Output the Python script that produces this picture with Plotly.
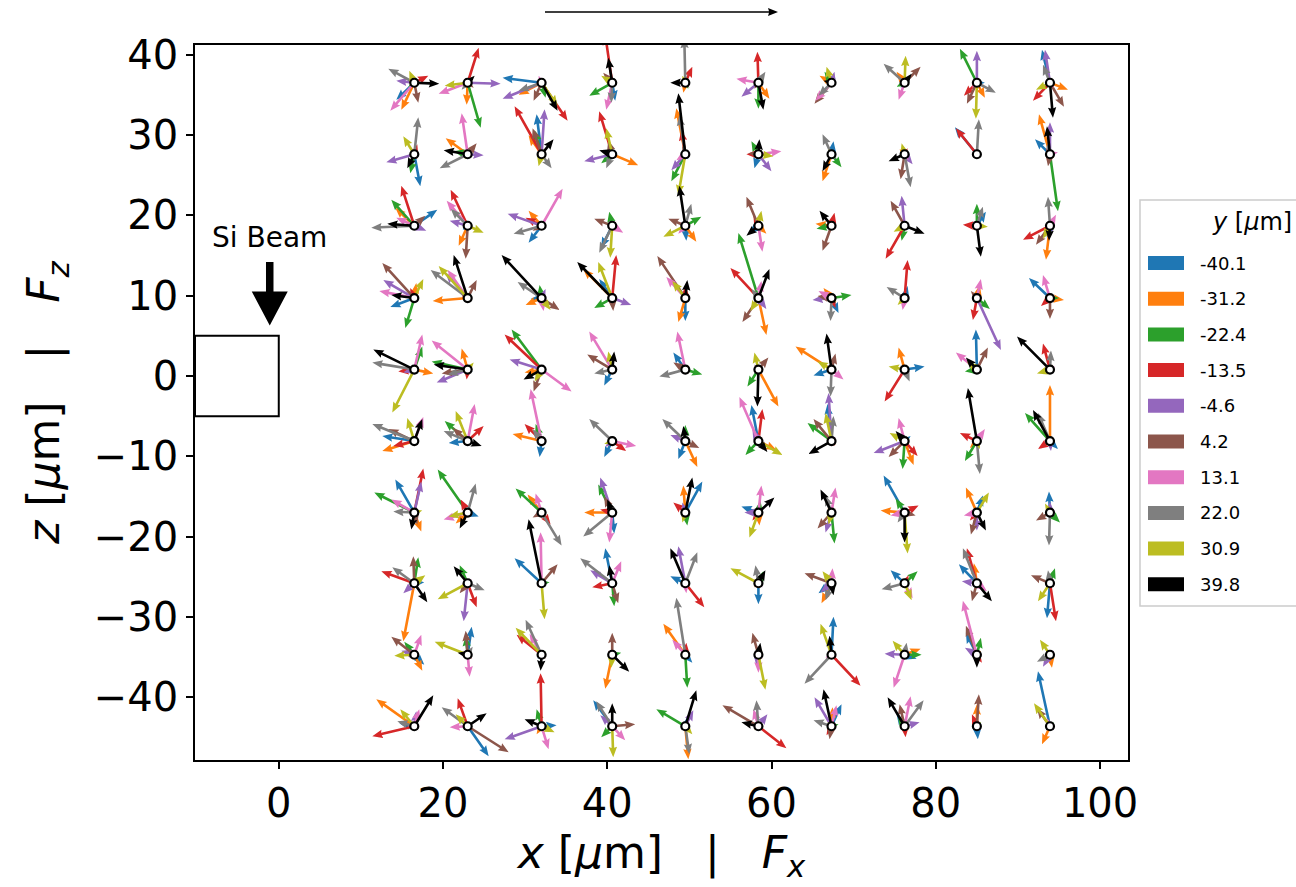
import math
import plotly.graph_objects as go

# ---------------------------------------------------------------- layout frame
FIG_W, FIG_H = 1296, 887
MARGIN = dict(l=195, r=168, t=45, b=127)
X_RANGE = [-10.2, 103.4]
Z_RANGE = [-47.8, 41.2]

# ---------------------------------------------------------------- data
# grid of probe positions (x, z) in micrometres
COL_X = [16.5, 23.0, 32.0, 40.6, 49.5, 58.4, 67.3, 76.2, 85.0, 93.9]
ROW_Z = [36.5, 27.6, 18.7, 9.7, 0.8, -8.1, -17.0, -25.8, -34.7, -43.6]

# y slices (micrometres) and their colours
Y_SLICES = [-40.1, -31.2, -22.4, -13.5, -4.6, 4.2, 13.1, 22.0, 30.9, 39.8]
SLICE_COLORS = ["#1f77b4", "#ff7f0e", "#2ca02c", "#d62728", "#9467bd",
                "#8c564b", "#e377c2", "#7f7f7f", "#bcbd22", "#000000"]

# force components (Fx, Fz), arbitrary units; one list per row of the grid,
# each point holds one vector per y slice (same order as Y_SLICES)
row_1 = [
    [(-18, -17), (-13, -27), (-6, -4), (14, 7), (-18, 2), (4, -20), (-24, -28), (-26, 14), (-5, 12), (25, -1)],
    [(4, 4), (-1, -22), (13, -45), (11, 35), (33, -1), (6, -5), (-29, -11), (-6, -7), (-23, -3), (7, 7)],
    [(-39, 5), (-23, -12), (4, -15), (26, -38), (-39, -16), (-8, -18), (-3, 7), (-23, -8), (16, -23), (16, -28)],
    [(3, -18), (-3, -4), (-23, -13), (-7, 48), (-2, -7), (-9, 10), (-6, -27), (-1, -20), (-11, 7), (-4, 25)],
    [(-2, -8), (-2, -10), (3, -6), (7, 16), (-3, 5), (4, -5), (-4, -4), (-1, 45), (-3, 7), (-15, 0)],
    [(2, -6), (11, -16), (0, -26), (-1, 31), (-17, -14), (-4, -6), (-22, 4), (7, 11), (4, 4), (5, -27)],
    [(4, 5), (-12, 7), (-7, 11), (2, 6), (3, 11), (-17, -21), (-16, -18), (-13, -13), (-5, 16), (-8, 2)],
    [(-4, -5), (-8, 11), (-8, -4), (5, 4), (-4, 4), (16, 16), (-6, -17), (-21, 19), (1, 27), (7, 9)],
    [(8, 0), (8, -15), (-17, 34), (-13, -13), (0, 32), (-10, -21), (-5, -5), (19, -10), (-1, -36), (3, -5)],
    [(-8, 33), (18, -7), (-4, -6), (-17, -18), (-5, 33), (14, -24), (4, -5), (-7, 18), (-14, -7), (3, -35)],
]
row_2 = [
    [(6, -32), (-3, -4), (-4, -19), (3, 10), (-28, -8), (3, -5), (2, 4), (4, 37), (-11, 18), (-7, -14)],
    [(-8, 2), (-22, 16), (-14, 3), (3, 5), (16, -1), (9, 11), (-6, 41), (-28, -14), (-3, -5), (-24, 4)],
    [(-5, 40), (-13, 19), (-7, 24), (-27, 48), (3, 45), (-9, 26), (-2, 4), (10, -14), (-3, -12), (12, 15)],
    [(5, 2), (26, -11), (-11, -9), (-13, 43), (-28, -7), (-4, 14), (4, -4), (-6, -14), (-6, 26), (-13, 4)],
    [(3, -5), (-9, 46), (-14, -27), (-4, 24), (-14, -16), (-3, 8), (-9, -6), (-6, 39), (-7, -41), (-7, 61)],
    [(-4, -14), (4, -5), (-7, 13), (-12, 0), (13, -17), (-10, 1), (23, 3), (4, 5), (15, -2), (1, 15)],
    [(2, 13), (-9, -27), (10, -13), (-4, 2), (4, -5), (-3, -6), (5, -3), (-9, 20), (-3, 5), (-9, -17)],
    [(4, -4), (-5, 5), (-5, -3), (3, 6), (8, -10), (-4, -25), (4, -6), (6, -33), (-3, 11), (-16, -7)],
    [(-22, 27), (-3, -4), (3, 4), (-21, 26), (4, -3), (-4, 3), (-3, 5), (2, 35), (2, -4), (3, 3)],
    [(-15, 15), (-11, 40), (8, -57), (-4, 6), (0, 32), (-2, -12), (8, 2), (-3, 10), (4, -4), (-3, 28)],
]
row_3 = [
    [(23, 16), (-19, 18), (-23, 26), (-13, 40), (12, -5), (11, 10), (-18, 8), (-43, -2), (-3, 5), (-27, 2)],
    [(-5, -4), (-9, -20), (-6, 8), (-17, 36), (-18, 5), (-2, -33), (-21, 25), (-17, 17), (16, -7), (3, 3)],
    [(-13, -17), (-13, 15), (-5, 3), (-16, 8), (-34, 12), (-9, -5), (21, 37), (-28, -8), (-4, -3), (3, -3)],
    [(-11, -22), (3, -4), (-3, 14), (4, 4), (-3, 5), (-18, 7), (11, -7), (-13, -27), (-2, -32), (2, 3)],
    [(1, -15), (11, -16), (16, 9), (4, 4), (-4, 4), (-17, 7), (-7, -8), (6, 22), (-22, -11), (-6, 40)],
    [(-10, -8), (8, -8), (-4, 5), (-5, 10), (3, -5), (-12, 29), (4, -26), (2, -6), (3, 15), (-12, -10)],
    [(4, 5), (-16, 2), (-15, -3), (3, 13), (4, -3), (-9, -25), (3, -4), (-3, -4), (-4, 5), (-12, 15)],
    [(4, -4), (-4, -4), (-3, -15), (-19, -33), (-3, 30), (-14, 25), (3, -4), (4, 4), (-11, -6), (20, -8)],
    [(9, 14), (-4, -4), (0, 22), (-14, 1), (4, -3), (-3, -4), (5, -3), (6, 19), (11, -1), (4, -31)],
    [(-3, -12), (-4, -34), (4, -4), (-27, -14), (3, -6), (-14, -19), (6, 11), (-2, 29), (-7, -13), (-1, -15)],
]
row_4 = [
    [(-24, -9), (2, 15), (-9, -30), (-4, 10), (-31, 18), (-32, 35), (-35, 7), (-5, 3), (9, 19), (-23, 3)],
    [(-4, -3), (-35, -3), (-5, 3), (-8, 8), (-22, 25), (9, 18), (-20, 28), (-37, 28), (-29, 32), (-14, 43)],
    [(-11, -1), (-16, -7), (-2, 13), (-4, 5), (4, 9), (18, -12), (2, -13), (-24, 16), (9, -12), (-40, 43)],
    [(-13, 19), (-29, 29), (-18, -10), (4, 43), (19, -7), (1, -13), (-4, 5), (-5, -4), (-14, 36), (-35, 36)],
    [(0, -23), (-7, -24), (3, 4), (0, 12), (4, -3), (-28, 42), (-19, 21), (-4, 4), (-13, 17), (2, 18)],
    [(3, -4), (8, -37), (-20, 65), (-28, 30), (8, -11), (-16, -24), (3, 17), (-7, 9), (-8, -13), (11, 29)],
    [(7, -15), (-8, 10), (20, 3), (4, -10), (-19, -2), (-14, 2), (-13, 7), (-1, -23), (5, -4), (4, -5)],
    [(3, 12), (-3, 4), (4, -3), (3, 38), (4, 4), (-4, 4), (-2, -12), (-18, 11), (-7, -7), (-3, 3)],
    [(3, 3), (3, 13), (13, -11), (-4, -22), (24, -52), (-6, 7), (4, 19), (-4, -4), (-4, 3), (-3, -3)],
    [(-21, 20), (14, -2), (9, 0), (-9, -8), (4, -4), (0, -21), (-7, 23), (-4, 4), (-4, -3), (3, 4)],
]
row_5 = [
    [(4, -4), (19, -4), (8, 23), (-16, -2), (-11, -3), (-4, -4), (8, 35), (-42, 7), (-22, -43), (-41, 20)],
    [(5, -2), (-6, 21), (-36, 8), (-1, -10), (-31, -13), (-26, -4), (-36, 29), (-20, -5), (6, 7), (-34, 5)],
    [(-4, -4), (-17, -3), (-30, 40), (-37, 35), (-32, 10), (-8, -22), (30, -22), (-4, 4), (-7, -12), (-18, -10)],
    [(-8, -16), (-3, 4), (-4, -4), (-3, 5), (-4, 3), (-25, 15), (-23, 38), (-18, -4), (-4, 18), (2, 18)],
    [(-12, 17), (3, 4), (17, -5), (-3, 5), (-4, 3), (-12, 7), (-8, 38), (-26, -7), (3, -4), (-3, 5)],
    [(-4, -5), (20, -37), (-11, -17), (-4, 4), (4, 4), (10, 12), (4, -4), (-4, 5), (-4, 17), (-1, -37)],
    [(-18, -6), (-36, 23), (4, 3), (4, -3), (3, -4), (4, 16), (12, -10), (-1, -27), (-14, 8), (-5, 36)],
    [(20, 3), (-6, 22), (4, 3), (-20, -32), (3, -4), (-4, 4), (-3, -5), (5, -12), (-16, 3), (-4, 3)],
    [(-1, 40), (3, 4), (-12, -2), (-4, -3), (4, -3), (11, 22), (-21, 17), (3, 4), (-10, 8), (-11, 12)],
    [(4, -3), (3, 4), (-3, 4), (-7, 26), (-4, -3), (3, 5), (5, 3), (1, 19), (-13, -4), (-33, 33)],
]
row_6 = [
    [(-32, 5), (-32, -10), (-4, 4), (-21, -5), (4, -4), (-26, 12), (9, 24), (-42, 17), (-7, 23), (8, 22)],
    [(-19, -2), (-4, -4), (-23, 20), (16, 15), (4, -3), (-15, 13), (7, 37), (-24, 10), (-12, 30), (14, -5)],
    [(-2, -16), (-29, 7), (-6, 17), (-17, 17), (3, -4), (-4, 4), (-11, 52), (-9, 12), (4, -3), (-4, -4)],
    [(-8, -16), (-4, 3), (3, 4), (14, -10), (-7, -6), (4, -3), (24, -5), (-23, 22), (-8, -3), (3, 4)],
    [(-7, -18), (12, -26), (0, 16), (4, -4), (-15, 6), (14, -7), (-4, 4), (-23, 22), (3, 4), (-2, 15)],
    [(-7, 36), (18, -9), (-13, -14), (4, 32), (-6, 12), (4, 4), (-19, 44), (-4, 4), (24, -14), (9, -11)],
    [(-4, 37), (4, -4), (-24, 18), (3, -5), (-3, 48), (-18, 22), (4, 4), (2, 25), (-6, 28), (-23, -13)],
    [(6, 5), (9, -24), (-2, -28), (13, -15), (-31, -12), (-16, -16), (-6, 23), (-4, 4), (-15, 8), (-9, 10)],
    [(3, 4), (-7, -7), (-12, -20), (-17, 8), (4, -3), (-4, 3), (8, 12), (3, -33), (3, -8), (-9, 53)],
    [(8, -8), (0, 56), (-25, 28), (-12, -8), (1, -10), (-4, 4), (4, 3), (-12, 28), (-4, -4), (-17, 31)],
]
row_7 = [
    [(-19, 33), (7, -19), (-40, 20), (9, 44), (7, 31), (3, -12), (-23, 13), (-21, 1), (8, 2), (-3, -17)],
    [(11, -4), (-12, -11), (-30, 43), (-7, 13), (4, -3), (-4, -4), (-24, -7), (8, 29), (-19, -4), (-8, -16)],
    [(4, 4), (-14, 18), (-26, 24), (9, -12), (-4, 3), (-9, -5), (-6, 19), (20, -33), (3, -4), (-4, 4)],
    [(2, -21), (-28, 0), (-14, 28), (-12, 3), (-12, 35), (-8, 16), (-3, -30), (-29, -24), (-4, -4), (-5, 13)],
    [(17, 31), (-2, 27), (2, -13), (-12, 10), (-3, 10), (4, -3), (-4, -4), (4, 4), (-3, -10), (7, 35)],
    [(-17, 6), (1, -13), (2, 12), (-6, -8), (-14, 0), (-4, -4), (3, 27), (4, 4), (-9, -25), (16, 15)],
    [(4, -4), (-4, 4), (3, -31), (4, 4), (-6, -20), (-14, -16), (4, 25), (-6, 17), (-3, -12), (-11, 23)],
    [(-21, 37), (-24, 2), (-9, 14), (14, 7), (-4, -4), (11, -3), (-14, -3), (-7, -10), (3, -41), (0, -30)],
    [(6, 17), (-11, 25), (4, 4), (-7, -8), (0, -18), (-6, -22), (-13, -3), (-4, 4), (12, 20), (9, -18)],
    [(-1, 21), (4, -4), (10, -10), (4, 3), (0, 11), (-14, -8), (4, -3), (-1, -33), (-5, 9), (-3, -4)],
]
row_8 = [
    [(10, 1), (-11, -58), (4, 26), (-33, 12), (-11, -10), (-1, 27), (4, 5), (-22, 16), (11, 8), (13, -19)],
    [(4, -3), (-4, 4), (-8, 18), (9, -24), (-4, -38), (-8, -10), (4, 4), (17, -7), (-30, -16), (-14, 17)],
    [(-27, 25), (-4, -4), (8, 1), (4, 4), (-4, -3), (16, 19), (-1, 51), (4, -4), (3, -36), (-13, 64)],
    [(-7, 35), (-4, -4), (2, -23), (-20, -4), (-22, 13), (6, -20), (9, 22), (-32, 25), (4, -4), (-3, 18)],
    [(-15, 7), (4, -4), (4, 4), (19, -24), (-7, 37), (-4, -4), (1, -10), (12, 31), (-4, 3), (-15, 35)],
    [(0, -21), (-4, -4), (5, 12), (-4, 4), (4, -4), (-4, -4), (4, -4), (-3, 18), (-28, 15), (7, 13)],
    [(-13, -10), (-10, -20), (4, -4), (4, -3), (-11, -9), (-27, 10), (1, 15), (-6, -17), (-9, 12), (2, -12)],
    [(-14, 13), (-4, -4), (13, 12), (4, 8), (-4, 3), (-4, -4), (8, -15), (-23, -6), (7, -17), (4, -4)],
    [(-18, 19), (-3, 20), (4, -4), (-10, 35), (-15, 2), (-5, -18), (10, -8), (-14, 35), (-4, 4), (15, -18)],
    [(-3, -35), (4, -4), (5, 15), (6, -38), (4, -4), (-19, 8), (4, 4), (-2, 13), (-12, -18), (-4, -4)],
]
row_9 = [
    [(10, -10), (8, -16), (-10, 13), (-4, 4), (-13, 4), (-23, 18), (7, 20), (-4, 4), (-20, -1), (4, -4)],
    [(4, 28), (4, -4), (-2, 19), (-4, 4), (4, -4), (-2, 24), (2, -22), (5, 8), (-33, 13), (-10, 2)],
    [(-4, -4), (-4, 4), (4, 4), (-25, 20), (-4, -3), (4, -4), (-12, 21), (-16, 35), (-26, 27), (-1, -16)],
    [(4, -4), (-7, -34), (9, 2), (-4, 4), (-4, -3), (0, 22), (4, 4), (-4, 4), (-1, -13), (17, -17)],
    [(7, -8), (-22, 31), (2, -33), (1, 12), (-4, -4), (4, 4), (-13, 15), (-9, 57), (-4, -4), (4, -4)],
    [(-4, -4), (4, -4), (4, 4), (4, 4), (-2, -12), (-6, 22), (0, -18), (-4, 4), (7, -35), (2, 12)],
    [(2, 38), (4, -4), (4, 4), (29, -31), (-4, -4), (4, 4), (-6, -3), (-27, -29), (-11, 31), (-2, 19)],
    [(12, -4), (16, 6), (17, 0), (4, 4), (-20, 1), (-4, -4), (-11, -33), (2, 12), (-12, 14), (-4, 4)],
    [(-11, 22), (4, 4), (4, 17), (5, -8), (-12, 7), (-11, 29), (-14, 54), (-4, 4), (4, -4), (0, -13)],
    [(4, 4), (2, -13), (4, -4), (-4, -4), (-7, -12), (-4, 4), (4, 4), (-13, -7), (-10, 15), (-4, -4)],
]
row_10 = [
    [(-15, 3), (-38, 27), (4, 4), (-42, -10), (2, 15), (4, -4), (5, 17), (-17, 5), (-14, 17), (19, 31)],
    [(21, -30), (-4, -4), (4, 4), (-10, 28), (4, -4), (41, -26), (-18, -1), (-26, 19), (-12, 12), (19, 13)],
    [(15, 1), (-5, -8), (-5, 17), (-1, 53), (-37, -13), (4, -4), (7, -23), (-4, 4), (13, -6), (-17, 7)],
    [(-19, 26), (4, -4), (-11, -11), (-4, -4), (-12, 11), (23, 2), (13, -14), (-16, 25), (1, -31), (0, 23)],
    [(2, 9), (3, -33), (-29, 17), (4, -4), (8, 16), (-4, -4), (4, 4), (4, -28), (7, -8), (11, 36)],
    [(4, -4), (4, -4), (-4, 4), (28, -22), (9, 12), (-36, 21), (-5, 17), (-2, 26), (-4, -4), (-17, 4)],
    [(10, 22), (1, 19), (7, 2), (-5, -9), (-17, 29), (-2, -13), (5, 21), (-18, 6), (-4, 4), (-8, 37)],
    [(-8, 12), (4, -4), (-7, 11), (1, -11), (15, 4), (-5, 22), (6, 30), (19, 26), (-4, 4), (-17, 29)],
    [(1, -13), (0, 22), (4, 4), (-5, 12), (-4, 4), (2, 32), (4, -4), (-4, -4), (4, 4), (-4, 4)],
    [(-12, 55), (-8, -18), (4, 4), (-4, 4), (4, -4), (-13, 18), (-3, 8), (-4, 4), (-16, 23), (-4, -4)],
]
FORCE_ROWS = [row_1, row_2, row_3, row_4, row_5, row_6, row_7, row_8, row_9, row_10]

# magnitude of the reference arrow drawn above the axes
KEY_FORCE = 233

# ---------------------------------------------------------------- quiver geometry
PX_PER_UNIT = 1.0          # quiver scale: screen pixels per force unit
SHAFT_W = 2.6
HEAD_W = 3.2 * SHAFT_W
HEAD_L = 4.0 * SHAFT_W
HEAD_AX = 3.6 * SHAFT_W

plot_w = FIG_W - MARGIN["l"] - MARGIN["r"]
plot_h = FIG_H - MARGIN["t"] - MARGIN["b"]
KX = plot_w / (X_RANGE[1] - X_RANGE[0])   # pixels per x unit
KZ = plot_h / (Z_RANGE[1] - Z_RANGE[0])   # pixels per z unit


def arrow_px(u, v, shaft, head_w, head_l, head_ax):
    """Arrow outline as pixel offsets from its tail (y up)."""
    length = math.hypot(u, v)
    if length == 0:
        return []
    s = min(1.0, length / head_l)          # short arrows shrink as a whole
    w, hw, hl, ha = shaft * s, head_w * s, head_l * s, head_ax * s
    local = [(0, -w / 2), (length - ha, -w / 2), (length - hl, -hw / 2),
             (length, 0), (length - hl, hw / 2), (length - ha, w / 2), (0, w / 2)]
    c, sn = u / length, v / length
    return [(a * c - b * sn, a * sn + b * c) for a, b in local]


def arrow_outline(x0, z0, fx, fz):
    """Closed polygon of a tail-pivoted quiver arrow, in data coordinates."""
    pts = arrow_px(fx * PX_PER_UNIT, fz * PX_PER_UNIT, SHAFT_W, HEAD_W, HEAD_L, HEAD_AX)
    if not pts:
        return [], []
    xs = [x0 + px / KX for px, _ in pts]
    zs = [z0 + py / KZ for _, py in pts]
    return xs + [xs[0]], zs + [zs[0]]


def svg_path(points):
    return "M " + " L ".join(f"{x:.5f},{y:.5f}" for x, y in points) + " Z"


fig = go.Figure()

for k, color in enumerate(SLICE_COLORS):
    xs, zs = [], []
    for r, z0 in enumerate(ROW_Z):
        for c, x0 in enumerate(COL_X):
            fx, fz = FORCE_ROWS[r][c][k]
            ax_, az_ = arrow_outline(x0, z0, fx, fz)
            xs += ax_ + [None]
            zs += az_ + [None]
    fig.add_trace(go.Scatter(
        x=xs, y=zs, mode="lines", fill="toself", fillcolor=color,
        line=dict(width=0, color=color), hoverinfo="skip", showlegend=False,
        name=f"{Y_SLICES[k]:.1f}"))

# probe positions
gx = [x for z in ROW_Z for x in COL_X]
gz = [z for z in ROW_Z for x in COL_X]
fig.add_trace(go.Scatter(
    x=gx, y=gz, mode="markers", hoverinfo="skip", showlegend=False,
    marker=dict(symbol="circle", size=8, color="white",
                line=dict(color="black", width=2.2))))

FONT = "DejaVu Sans"


def px_to_paper(px, py):
    return (px - MARGIN["l"]) / plot_w, (FIG_H - MARGIN["b"] - py) / plot_h


# silicon beam cross-section
fig.add_shape(type="rect", xref="x", yref="y", x0=-10.2, x1=0, y0=-5, y1=5,
              line=dict(color="black", width=2), fillcolor="rgba(0,0,0,0)")

# beam direction marker: thick arrow pointing down onto the beam
BEAM_X, BEAM_TAIL_Z, BEAM_TIP_Z = -1.1, 14.2, 6.3
beam_len = (BEAM_TAIL_Z - BEAM_TIP_Z) * KZ
beam_pts = arrow_px(0, -beam_len, 7.5, 36, 34, 34)
fig.add_shape(type="path", xref="x", yref="y",
              path=svg_path([(BEAM_X + px / KX, BEAM_TAIL_Z + py / KZ) for px, py in beam_pts]),
              fillcolor="black", line=dict(width=0))

# reference arrow above the axes (tail at pixel 545, 12)
key_pts = arrow_px(KEY_FORCE * PX_PER_UNIT, 0, 1.6, 8, 10, 9)
fig.add_shape(type="path", xref="paper", yref="paper",
              path=svg_path([px_to_paper(545 + px, 12 - py) for px, py in key_pts]),
              fillcolor="black", line=dict(width=0))

annotations = [
    dict(x=BEAM_X, y=17.2, xref="x", yref="y", text="Si Beam", showarrow=False,
         font=dict(family=FONT, size=28, color="black")),
]

# legend drawn at the right of the axes
lx0, ly0 = px_to_paper(1140, 200)
lx1, ly1 = px_to_paper(1320, 606)
fig.add_shape(type="rect", xref="paper", yref="paper", x0=lx0, x1=lx1, y0=ly1, y1=ly0,
              line=dict(color="#cccccc", width=1.5), fillcolor="rgba(255,255,255,0.8)",
              layer="above")
tx, ty = px_to_paper(1252, 222)
annotations.append(dict(x=tx, y=ty, xref="paper", yref="paper", showarrow=False,
                        text="<i>y</i> [<i>μ</i>m]", xanchor="center", yanchor="middle",
                        font=dict(family=FONT, size=24, color="black")))
for k, (yv, color) in enumerate(zip(Y_SLICES, SLICE_COLORS)):
    cy = 263 + 35.7 * k
    px0, py0 = px_to_paper(1148, cy - 7)
    px1, py1 = px_to_paper(1184, cy + 7)
    fig.add_shape(type="rect", xref="paper", yref="paper", x0=px0, x1=px1, y0=py1, y1=py0,
                  line=dict(width=0), fillcolor=color, layer="above")
    lx, ly = px_to_paper(1198, cy)
    annotations.append(dict(x=lx, y=ly, xref="paper", yref="paper", showarrow=False,
                            text=f"{yv:.1f}", xanchor="left", yanchor="middle",
                            font=dict(family=FONT, size=18, color="black")))

NB = "\u00a0"
fig.update_layout(
    width=FIG_W, height=FIG_H, margin=MARGIN,
    paper_bgcolor="white", plot_bgcolor="white",
    font=dict(family=FONT, color="black"),
    annotations=annotations,
    xaxis=dict(range=X_RANGE, tickvals=[0, 20, 40, 60, 80, 100],
               showgrid=False, zeroline=False, showline=True, mirror=True,
               linecolor="black", linewidth=1.6, ticks="outside", ticklen=7,
               tickwidth=1.6, tickcolor="black",
               tickfont=dict(family=FONT, size=40),
               title=dict(text=f"<i>x</i> [<i>μ</i>m]{NB*3}|{NB*3}<i>F</i><sub><i>x</i></sub>",
                          font=dict(family=FONT, size=44), standoff=12)),
    yaxis=dict(range=Z_RANGE, tickvals=[-40, -30, -20, -10, 0, 10, 20, 30, 40],
               showgrid=False, zeroline=False, showline=True, mirror=True,
               linecolor="black", linewidth=1.6, ticks="outside", ticklen=7,
               tickwidth=1.6, tickcolor="black",
               tickfont=dict(family=FONT, size=40),
               title=dict(text=f"<i>z</i> [<i>μ</i>m]{NB*3}|{NB*3}<i>F</i><sub><i>z</i></sub>",
                          font=dict(family=FONT, size=44), standoff=20)),
)

fig.write_html("out.html")
